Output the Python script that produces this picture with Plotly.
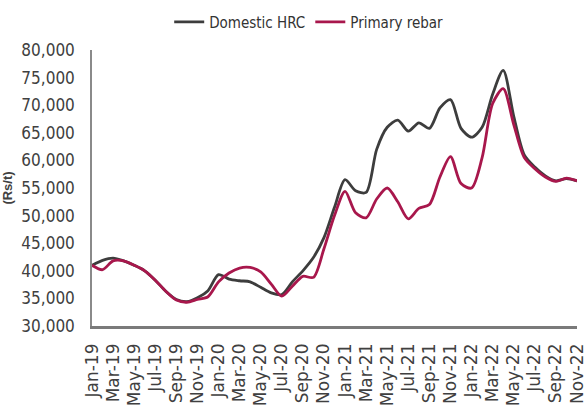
import plotly.graph_objects as go

# Monthly steel prices, Rs/t
months = [
    "Jan-19", "Feb-19", "Mar-19", "Apr-19", "May-19", "Jun-19", "Jul-19", "Aug-19",
    "Sep-19", "Oct-19", "Nov-19", "Dec-19", "Jan-20", "Feb-20", "Mar-20", "Apr-20",
    "May-20", "Jun-20", "Jul-20", "Aug-20", "Sep-20", "Oct-20", "Nov-20", "Dec-20",
    "Jan-21", "Feb-21", "Mar-21", "Apr-21", "May-21", "Jun-21", "Jul-21", "Aug-21",
    "Sep-21", "Oct-21", "Nov-21", "Dec-21", "Jan-22", "Feb-22", "Mar-22", "Apr-22",
    "May-22", "Jun-22", "Jul-22", "Aug-22", "Sep-22", "Oct-22", "Nov-22",
]

domestic_hrc = [
    41000, 41900, 42300, 41800, 41000, 40000, 38300, 36300,
    34800, 34400, 35100, 36400, 39300, 38500, 38200, 38000,
    37000, 36000, 35700, 38000, 40000, 42400, 46000, 51500,
    56500, 54500, 54200, 62000, 66000, 67300, 65300, 66800,
    65800, 69500, 71000, 65800, 64200, 66000, 72000, 76300,
    68000, 61000, 58800, 57200, 56300, 56700, 56300,
]

primary_rebar = [
    41000, 40200, 41800, 41800, 41000, 40000, 38300, 36300,
    34700, 34300, 34800, 35300, 38000, 39600, 40500, 40600,
    39800, 37600, 35400, 37200, 39000, 38800, 44000, 50000,
    54400, 50500, 49600, 53000, 55000, 52500, 49400, 51300,
    52000, 57000, 60700, 55800, 55000, 60500, 70300, 73000,
    66500, 60500, 58500, 57000, 56200, 56800, 56300,
]

y_ticks = [30000, 35000, 40000, 45000, 50000, 55000, 60000, 65000, 70000, 75000, 80000]

x = list(range(len(months)))
tick_idx = x[::2]
tick_text = [months[i] for i in tick_idx]

fig = go.Figure()
fig.add_trace(go.Scatter(
    x=x, y=domestic_hrc, name="Domestic HRC", mode="lines",
    line=dict(color="#3d3d3d", width=2.8, shape="spline", smoothing=0.8),
))
fig.add_trace(go.Scatter(
    x=x, y=primary_rebar, name="Primary rebar", mode="lines",
    line=dict(color="#a8174c", width=2.8, shape="spline", smoothing=0.8),
))

fig.update_layout(
    width=588, height=417,
    margin=dict(l=92, r=11, t=50, b=91),
    paper_bgcolor="white", plot_bgcolor="white",
    font=dict(family="Liberation Sans Narrow, DejaVu Sans Condensed, Liberation Sans, sans-serif",
              color="#404040"),
    showlegend=True,
    legend=dict(
        orientation="h", xref="container", yref="container",
        x=0.525, xanchor="center", y=0.947, yanchor="middle",
        font=dict(size=15, color="#333333"),
        itemwidth=30, tracegroupgap=0,
    ),
)

fig.update_xaxes(
    range=[0, len(months) - 1],
    tickmode="array", tickvals=tick_idx, ticktext=tick_text,
    tickangle=-90, ticks="", ticklabelstandoff=8,
    ticklabeloverflow="allow", automargin=False,
    tickfont=dict(family="DejaVu Sans, sans-serif", size=17, color="#404040"),
    showgrid=False, zeroline=False,
    showline=True, linecolor="#7a7a7a", linewidth=2.5,
)

fig.update_yaxes(
    range=[30000, 80000],
    tickmode="array", tickvals=y_ticks,
    ticktext=[f"{v:,}" for v in y_ticks],
    ticks="", ticklabelstandoff=12, automargin=False,
    tickfont=dict(size=17, color="#404040"),
    showgrid=False, zeroline=False,
    showline=True, linecolor="#8a8a8a", linewidth=1.5,
    title=dict(text="<b>(Rs/t)</b>", font=dict(family="Liberation Sans, sans-serif", size=13, color="#404040"),
               standoff=12),
)

fig.write_html("out.html")
